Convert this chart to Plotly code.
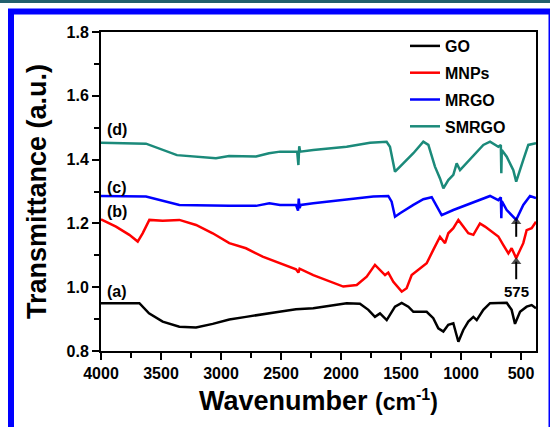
import plotly.graph_objects as go

# ---- data ----
go_wn = [4000, 3680, 3600, 3486, 3347, 3208, 3069, 2931, 2792, 2653, 2514, 2375, 2231, 1953, 1842, 1772,
         1717, 1675, 1619, 1550, 1494, 1439, 1397, 1286, 1231, 1189, 1147, 1106, 1064, 1022, 981, 939,
         897, 869, 814, 758, 619, 578, 550, 508, 453, 411, 375]
go_t = [0.950, 0.950, 0.918, 0.892, 0.876, 0.874, 0.885, 0.899, 0.907, 0.916, 0.923, 0.931, 0.934, 0.950, 0.948, 0.929,
        0.907, 0.918, 0.897, 0.939, 0.951, 0.939, 0.923, 0.923, 0.903, 0.871, 0.861, 0.882, 0.887, 0.829, 0.866, 0.892,
        0.907, 0.897, 0.929, 0.950, 0.951, 0.929, 0.885, 0.923, 0.939, 0.944, 0.934]

mnp_wn = [4000, 3875, 3764, 3694, 3653, 3597, 3486, 3347, 3208, 3069, 2931, 2792, 2653, 2514, 2375, 2355, 2345,
          2231, 2092, 1981, 1869, 1786, 1717, 1675, 1633, 1606, 1564, 1494, 1453, 1411, 1342, 1286, 1231, 1175,
          1133, 1106, 1064, 1022, 981, 939, 897, 842, 800, 744, 689, 647, 605, 578, 540, 481, 453, 411, 375]
mnp_t = [1.213, 1.190, 1.164, 1.143, 1.169, 1.211, 1.208, 1.211, 1.195, 1.169, 1.138, 1.122, 1.096, 1.075, 1.056, 1.046, 1.058,
         1.038, 1.017, 1.002, 1.007, 1.033, 1.070, 1.054, 1.038, 1.046, 1.017, 0.986, 0.997, 1.038, 1.059, 1.075, 1.117, 1.158,
         1.138, 1.169, 1.185, 1.211, 1.190, 1.169, 1.164, 1.200, 1.190, 1.174, 1.159, 1.132, 1.106, 1.122, 1.091, 1.138, 1.179, 1.185, 1.205]

mrgo_wn = [4000, 3625, 3347, 3069, 2931, 2708, 2597, 2508, 2375, 2358, 2352, 2345, 2335, 2231, 1953, 1731, 1606,
           1578, 1550, 1508, 1397, 1314, 1244, 1203, 1161, 1064, 953, 842, 758, 689, 668, 664, 660, 619, 540, 481, 425, 375]
mrgo_t = [1.286, 1.284, 1.258, 1.255, 1.255, 1.255, 1.263, 1.258, 1.258, 1.240, 1.278, 1.248, 1.258, 1.263, 1.276, 1.284, 1.286,
          1.268, 1.221, 1.232, 1.258, 1.276, 1.282, 1.252, 1.226, 1.242, 1.258, 1.273, 1.286, 1.273, 1.282, 1.216, 1.270, 1.242, 1.211, 1.258, 1.286, 1.279]

smrgo_wn = [4000, 3625, 3367, 3125, 3042, 2933, 2708, 2600, 2508, 2365, 2355, 2348, 2340, 2231, 1953, 1758, 1620,
            1592, 1550, 1508, 1397, 1314, 1272, 1217, 1175, 1147, 1106, 1064, 1036, 1008, 981, 897, 814, 758, 689,
            668, 664, 660, 619, 564, 540, 481, 439, 375]
smrgo_t = [1.453, 1.450, 1.414, 1.406, 1.404, 1.411, 1.410, 1.420, 1.425, 1.425, 1.383, 1.442, 1.425, 1.430, 1.440, 1.453, 1.456,
           1.440, 1.362, 1.378, 1.420, 1.456, 1.446, 1.378, 1.341, 1.310, 1.336, 1.352, 1.388, 1.367, 1.378, 1.409, 1.446, 1.456, 1.440,
           1.446, 1.357, 1.430, 1.409, 1.367, 1.331, 1.399, 1.446, 1.451]

series_names = ["GO", "MNPs", "MRGO", "SMRGO"]
series_colors = ["#000000", "#ff0000", "#0000ff", "#1b8a7a"]
curve_labels = ["(a)", "(b)", "(c)", "(d)"]
label_wn = [3965, 3965, 3965, 3965]
label_t = [0.985, 1.236, 1.312, 1.495]

x_ticks = [4000, 3500, 3000, 2500, 2000, 1500, 1000, 500]
y_ticks = [0.8, 1.0, 1.2, 1.4, 1.6, 1.8]

peak_wn = 540
peak_label = "575"
peak_label_t = 0.985
arrow_tips = [1.205, 1.080]
arrow_tails = [1.158, 1.025]

FONT = "Arial, Liberation Sans, sans-serif"

fig = go.Figure()
for name, col, xs, ys in zip(series_names, series_colors,
                             [go_wn, mnp_wn, mrgo_wn, smrgo_wn],
                             [go_t, mnp_t, mrgo_t, smrgo_t]):
    fig.add_trace(go.Scatter(x=xs, y=ys, mode="lines", name=name, legendgroup=name,
                             line=dict(color=col, width=2.5)))

# arrows pointing at the 575 band (shaft + triangular head at the tip)
for tip, tail in zip(arrow_tips, arrow_tails):
    fig.add_trace(go.Scatter(x=[peak_wn, peak_wn], y=[tail, tip], mode="lines+markers",
                             line=dict(color="black", width=2),
                             marker=dict(symbol="triangle-up", size=[0, 9], color="black", line=dict(width=0)),
                             showlegend=False, hoverinfo="skip"))

annotations = []
for lab, xw, yt in zip(curve_labels, label_wn, label_t):
    annotations.append(dict(x=xw, y=yt, xref="x", yref="y", text=lab, showarrow=False, xanchor="left",
                            font=dict(family=FONT, size=16, color="black", weight="bold")))
annotations.append(dict(x=peak_wn, y=peak_label_t, xref="x", yref="y", text=peak_label, showarrow=False,
                        font=dict(family=FONT, size=15, color="black", weight="bold")))

# frame decoration (blue border, teal strip on top) in paper coords
def px2x(p):
    return (p - 101) / 435.0

def py2y(p):
    return (351 - p) / 319.0

shapes = [
    dict(type="rect", xref="paper", yref="paper", x0=px2x(-5), x1=px2x(560), y0=py2y(3), y1=py2y(-5),
         fillcolor="#22606e", line=dict(width=0), layer="above"),
    dict(type="rect", xref="paper", yref="paper", x0=px2x(11), x1=px2x(551.5), y0=py2y(445), y1=py2y(11.5),
         fillcolor="rgba(0,0,0,0)", line=dict(color="#0000ff", width=6), layer="above"),
]

fig.update_layout(
    width=550, height=427,
    margin=dict(l=101, r=14, t=32, b=76),
    paper_bgcolor="white", plot_bgcolor="white",
    font=dict(family=FONT, color="black", weight="bold"),
    showlegend=True,
    legend=dict(x=px2x(405), y=py2y(29), xanchor="left", yanchor="top",
                bgcolor="rgba(0,0,0,0)", borderwidth=0, tracegroupgap=3,
                font=dict(family=FONT, size=16, color="black", weight="bold")),
    annotations=annotations,
    shapes=shapes,
)
fig.update_xaxes(
    range=[4000, 375], tickvals=x_ticks, ticktext=[str(v) for v in x_ticks],
    ticks="outside", ticklen=7, tickwidth=2, tickcolor="black",
    minor=dict(dtick=250, tick0=0, ticks="outside", ticklen=5, tickwidth=2, tickcolor="black"),
    showline=True, linecolor="black", linewidth=2, mirror=True, showgrid=False, zeroline=False,
    tickfont=dict(family=FONT, size=16, color="black", weight="bold"),
    title=dict(text='Wavenumber <span style="font-size:23px">(cm<sup>-1</sup>)</span>',
               font=dict(family=FONT, size=27, color="black", weight="bold"), standoff=10),
)
fig.update_yaxes(
    range=[0.8, 1.8], tickvals=y_ticks, ticktext=["%.1f" % v for v in y_ticks],
    ticks="outside", ticklen=7, tickwidth=2, tickcolor="black",
    minor=dict(dtick=0.1, tick0=0.8, ticks="outside", ticklen=5, tickwidth=2, tickcolor="black"),
    showline=True, linecolor="black", linewidth=2, mirror=True, showgrid=False, zeroline=False,
    tickfont=dict(family=FONT, size=16, color="black", weight="bold"),
    title=dict(text="Transmittance (a.u.)",
               font=dict(family=FONT, size=27, color="black", weight="bold"), standoff=12),
)

fig.write_html("out.html")
